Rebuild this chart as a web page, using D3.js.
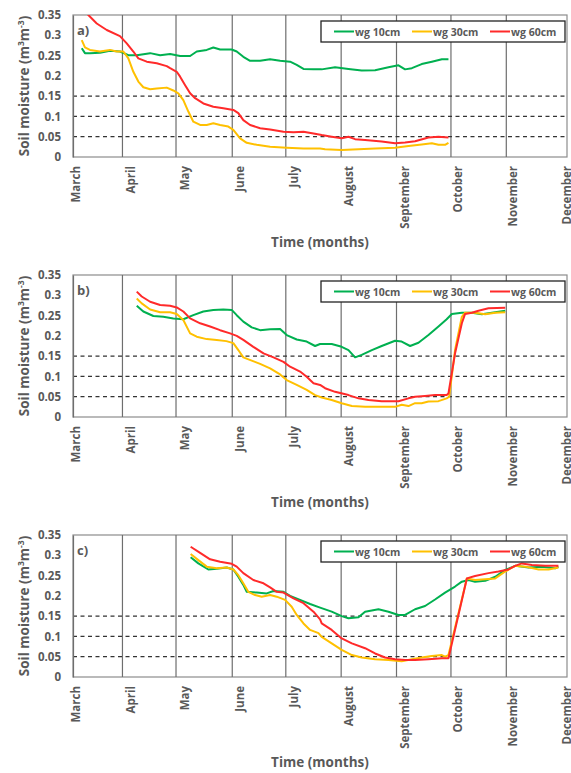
<!DOCTYPE html>
<html lang="en">
<head>
  <meta charset="UTF-8" />
  <title>Soil moisture</title>
  <script src="https://d3js.org/d3.v7.min.js"></script>
  <style>
    body { margin: 0; padding: 0; background: #fff; }
    text { font-family: "Open Sans", Arial, sans-serif; fill: #595959; font-weight: bold; }
  </style>
</head>
<body>
  <div id="chart"></div>

  <script>
    // x values are days counted from 1 March, y values in m3/m3
    const monthNames = ["March", "April", "May", "June", "July", "August", "September", "October", "November", "December"];
    const monthDays = [0, 31, 61, 92, 122, 153, 184, 214, 245, 275];
    const gridDays = [26, 56, 87.5, 117.5, 148.5, 179.5, 210, 241];
    const yTicks = [0, 0.05, 0.1, 0.15, 0.2, 0.25, 0.3, 0.35];
    const dashedLevels = [0.05, 0.1, 0.15];
    const seriesNames = ["wg 10cm", "wg 30cm", "wg 60cm"];
    const seriesColors = ["#00b050", "#ffc000", "#ff2a2a"];
    const panelLabels = ["a)", "b)", "c)"];

    const a10 = [[3.2,0.268],[5,0.256],[7.8,0.256],[13.4,0.257],[19,0.262],[24.6,0.26],[29.3,0.251],[34,0.251],[41.5,0.256],[47.1,0.251],[52.7,0.254],[58.3,0.249],[63.9,0.249],[67.6,0.26],[73.2,0.264],[76.9,0.27],[80.7,0.265],[87.2,0.265],[90,0.26],[93.7,0.247],[97.5,0.237],[103.1,0.237],[108.7,0.241],[114.3,0.237],[119.9,0.235],[123.6,0.227],[127.4,0.217],[133,0.216],[137.6,0.216],[145.1,0.221],[152.6,0.217],[160,0.213],[167.5,0.214],[175,0.221],[180.6,0.226],[184.3,0.216],[188.1,0.219],[193.6,0.229],[199.3,0.235],[204.9,0.241],[208.6,0.241]];
    const a30 = [[3.2,0.288],[5,0.27],[7.8,0.264],[13.4,0.26],[19,0.264],[22.8,0.26],[26.5,0.26],[29.3,0.243],[32.1,0.21],[34.9,0.186],[37.7,0.172],[41.5,0.167],[45.2,0.169],[50.8,0.171],[54.5,0.164],[57.3,0.157],[60.1,0.14],[62.9,0.112],[65.7,0.087],[69.5,0.079],[73.2,0.079],[76.9,0.083],[80.7,0.079],[85.3,0.075],[88.1,0.067],[91.9,0.046],[95.6,0.035],[101.2,0.03],[108.7,0.025],[118,0.023],[127.4,0.021],[136.7,0.021],[139.5,0.019],[148.8,0.017],[158.2,0.019],[167.5,0.021],[178.7,0.023],[186.2,0.027],[193.6,0.031],[199.3,0.034],[203,0.03],[206.7,0.03],[208.6,0.035]];
    const a60 = [[3.2,0.368],[6.9,0.35],[11.6,0.329],[17.2,0.313],[24.6,0.298],[28.4,0.28],[32.1,0.26],[34.9,0.243],[39.6,0.235],[45.2,0.231],[50.8,0.224],[52.7,0.219],[56.4,0.21],[58.3,0.198],[61.1,0.177],[63.9,0.157],[66.7,0.145],[71.3,0.132],[76.9,0.124],[82.5,0.12],[88.1,0.116],[90.9,0.108],[93.7,0.091],[97.5,0.079],[103.1,0.071],[108.7,0.068],[116.2,0.062],[121.8,0.061],[127.4,0.062],[133,0.058],[137.6,0.054],[143.2,0.05],[148.8,0.046],[152.6,0.05],[156.3,0.044],[161.9,0.042],[171.2,0.038],[178.7,0.034],[184.3,0.036],[189.9,0.039],[197.4,0.048],[203,0.05],[208.6,0.048]];

    const b10 = [[34,0.274],[37.7,0.26],[43.3,0.249],[48.9,0.247],[54.5,0.243],[60.1,0.241],[65.7,0.251],[71.3,0.26],[76.9,0.264],[82.5,0.265],[87.2,0.264],[90,0.251],[93.7,0.235],[98.4,0.221],[103.1,0.214],[108.7,0.216],[114.3,0.217],[118,0.202],[123.6,0.191],[129.2,0.186],[133.9,0.175],[136.7,0.18],[143.2,0.18],[148.8,0.173],[152.6,0.165],[156.3,0.147],[160,0.153],[165.7,0.165],[171.2,0.175],[178.7,0.188],[182.4,0.186],[187.1,0.175],[191.8,0.183],[197.4,0.202],[203,0.223],[207.6,0.241],[210.5,0.254],[216.1,0.257],[221.7,0.257],[227.3,0.253],[232.9,0.257],[240.4,0.262]];
    const b30 = [[34,0.292],[36.8,0.28],[41.5,0.265],[47.1,0.258],[52.7,0.258],[56.4,0.254],[60.1,0.239],[63.9,0.206],[67.6,0.198],[73.2,0.192],[78.8,0.19],[84.2,0.187],[88.1,0.182],[90.9,0.165],[93.7,0.147],[98.4,0.139],[103.1,0.131],[108.7,0.12],[114.3,0.105],[118,0.091],[123.6,0.079],[129.2,0.067],[133.9,0.054],[137.6,0.048],[143.2,0.042],[148.8,0.034],[154.5,0.027],[161.9,0.025],[171.2,0.025],[178.7,0.025],[182.4,0.03],[186.2,0.027],[189.9,0.034],[193.6,0.034],[197.4,0.038],[203,0.039],[207.6,0.046],[209,0.05],[212.3,0.165],[216.1,0.247],[217.9,0.257],[223.5,0.257],[229.2,0.253],[234.8,0.257],[240.4,0.258]];
    const b60 = [[34,0.309],[36.8,0.297],[41.5,0.284],[47.1,0.276],[52.7,0.274],[56.4,0.27],[60.1,0.26],[63.9,0.243],[69.5,0.231],[75.1,0.223],[80.7,0.214],[86.3,0.206],[90,0.2],[93.7,0.19],[99.3,0.173],[105,0.157],[110.6,0.147],[116.2,0.136],[119.9,0.124],[125.5,0.112],[129.2,0.099],[133,0.083],[136.7,0.079],[139.5,0.071],[145.1,0.062],[152.6,0.054],[158.2,0.046],[163.8,0.042],[171.2,0.039],[180.6,0.039],[186.2,0.046],[189.9,0.05],[195.5,0.052],[201.1,0.054],[207.6,0.054],[208.6,0.058],[212.3,0.157],[216.1,0.231],[217.9,0.254],[221.7,0.257],[225.4,0.262],[231,0.268],[240.4,0.269]];

    const c10 = [[64.2,0.295],[68.5,0.28],[74.1,0.265],[78.8,0.267],[84.4,0.27],[88.1,0.265],[90.9,0.247],[93.7,0.227],[95.6,0.21],[101.2,0.208],[106.8,0.206],[110.6,0.212],[116.2,0.21],[119.9,0.2],[125.5,0.19],[131.1,0.18],[136.7,0.171],[143.2,0.161],[148.8,0.15],[152.6,0.145],[158.2,0.147],[161.9,0.161],[169.4,0.167],[175,0.161],[180.6,0.153],[184.3,0.153],[189.9,0.167],[195.5,0.175],[201.1,0.191],[206.7,0.208],[212.3,0.223],[216.1,0.235],[219.8,0.239],[223.5,0.235],[229.2,0.237],[234.8,0.247],[240.4,0.264],[246,0.274],[253.5,0.27],[261,0.272],[268.4,0.268],[270.2,0.272]];
    const c30 = [[64.2,0.303],[68.5,0.288],[73.2,0.272],[78.8,0.268],[84.4,0.27],[88.1,0.265],[90.9,0.251],[93.7,0.231],[96.5,0.21],[100.3,0.202],[104,0.198],[108.7,0.202],[112.4,0.198],[117.1,0.19],[120.8,0.173],[123.6,0.153],[127.4,0.132],[131.1,0.116],[135.8,0.108],[137.6,0.099],[143.2,0.083],[148.8,0.067],[154.5,0.054],[160,0.048],[167.5,0.044],[175,0.042],[182.4,0.039],[188.1,0.044],[193.6,0.048],[199.3,0.052],[204.9,0.054],[206.7,0.05],[208.6,0.054],[218.9,0.243],[223.5,0.239],[229.2,0.241],[234.8,0.243],[240.4,0.26],[246,0.274],[251.6,0.272],[259.1,0.265],[264.7,0.265],[270.2,0.27]];
    const c60 = [[64.2,0.321],[69.5,0.306],[75.1,0.29],[80.7,0.284],[87.2,0.279],[90,0.272],[93.7,0.256],[99.3,0.239],[105,0.231],[108.7,0.221],[112.4,0.21],[116.2,0.208],[121.8,0.194],[127.4,0.182],[133,0.161],[136.7,0.142],[137.6,0.132],[143.2,0.116],[148.8,0.095],[154.5,0.083],[161.9,0.071],[167.5,0.058],[173.1,0.048],[178.7,0.044],[184.3,0.042],[189.9,0.042],[197.4,0.044],[204.9,0.046],[208.6,0.046],[218.9,0.243],[223.5,0.249],[231,0.256],[236.6,0.26],[242.2,0.265],[245.9,0.274],[249.7,0.28],[255.3,0.276],[262.8,0.274],[270.2,0.274]];

    const panels = [[a10, a30, a60], [b10, b30, b60], [c10, c30, c60]];

    const width = 571, height = 773;
    const margin = { left: 73, right: 4, top: 15 };
    const plotH = 142;
    const panelStep = 260;

    const svg = d3.select("#chart").append("svg")
      .attr("width", width)
      .attr("height", height);

    const x = d3.scaleLinear().domain([-1.7, 275]).range([margin.left, width - margin.right]);
    const y = d3.scaleLinear().domain([0, 0.35]).range([margin.top + plotH, margin.top]);

    const line = d3.line().x(d => x(d[0])).y(d => y(d[1]));

    svg.append("defs").append("clipPath").attr("id", "plotClip")
      .append("rect")
      .attr("x", x.range()[0]).attr("y", margin.top)
      .attr("width", x.range()[1] - x.range()[0]).attr("height", plotH);

    panels.forEach((series, i) => {
      const g = svg.append("g").attr("transform", `translate(0,${i * panelStep})`);

      // frame
      g.append("rect")
        .attr("x", x.range()[0]).attr("y", margin.top)
        .attr("width", x.range()[1] - x.range()[0]).attr("height", plotH)
        .attr("fill", "none").attr("stroke", "#8c8c8c").attr("stroke-width", 1.2);

      // vertical month lines
      g.selectAll(".vgrid").data(gridDays).enter().append("line")
        .attr("x1", d => x(d)).attr("x2", d => x(d))
        .attr("y1", margin.top).attr("y2", margin.top + plotH)
        .attr("stroke", "#6e6e6e").attr("stroke-width", 1.2);

      // dashed levels
      g.selectAll(".hdash").data(dashedLevels).enter().append("line")
        .attr("x1", x.range()[0]).attr("x2", x.range()[1])
        .attr("y1", d => y(d)).attr("y2", d => y(d))
        .attr("stroke", "#333").attr("stroke-width", 1.3)
        .attr("stroke-dasharray", "4,3.5");

      // y axis
      const yAxis = g.append("g")
        .attr("transform", `translate(${x.range()[0]},0)`)
        .call(d3.axisLeft(y).tickValues(yTicks).tickSize(0).tickPadding(12)
          .tickFormat(d => d === 0 ? "0" : String(+d.toFixed(2))));
      yAxis.select(".domain").attr("stroke", "#6e6e6e").attr("stroke-width", 1.2);
      yAxis.selectAll("text").attr("font-size", 11.5).attr("fill", "#595959")
        .attr("font-family", "'Open Sans', Arial, sans-serif").attr("font-weight", "bold");

      // month labels
      g.selectAll(".month").data(monthDays).enter().append("text")
        .attr("transform", d => `translate(${x(d)},${margin.top + plotH + 9}) rotate(-90)`)
        .attr("text-anchor", "end")
        .attr("dy", "0.35em")
        .attr("font-size", 11.5)
        .text((d, k) => monthNames[k]);

      // axis titles
      const yt = g.append("text")
        .attr("transform", `translate(29,${margin.top + plotH / 2}) rotate(-90)`)
        .attr("text-anchor", "middle")
        .attr("font-size", 13.5);
      yt.append("tspan").text("Soil moisture (m");
      yt.append("tspan").attr("font-size", 8.5).attr("dy", -5).text("3");
      yt.append("tspan").attr("dy", 5).text("m");
      yt.append("tspan").attr("font-size", 8.5).attr("dy", -5).text("-3");
      yt.append("tspan").attr("dy", 5).text(")");

      g.append("text")
        .attr("x", 320).attr("y", 247)
        .attr("text-anchor", "middle")
        .attr("font-size", 13.5)
        .text("Time (months)");

      // panel label
      g.append("text")
        .attr("x", 77).attr("y", 35)
        .attr("font-size", 13)
        .text(panelLabels[i]);

      // series lines
      const lines = g.append("g").attr("clip-path", "url(#plotClip)");
      series.forEach((s, k) => {
        lines.append("path")
          .datum(s)
          .attr("fill", "none")
          .attr("stroke", seriesColors[k])
          .attr("stroke-width", 2)
          .attr("stroke-linejoin", "round")
          .attr("d", line);
      });

      // legend
      const lg = g.append("g").attr("transform", "translate(321,21)");
      lg.append("rect").attr("width", 244).attr("height", 21)
        .attr("fill", "#fff").attr("stroke", "#222").attr("stroke-width", 1.3);
      seriesNames.forEach((name, k) => {
        const item = lg.append("g").attr("transform", `translate(${13 + k * 78},0)`);
        item.append("line").attr("x1", 0).attr("x2", 20).attr("y1", 10.5).attr("y2", 10.5)
          .attr("stroke", seriesColors[k]).attr("stroke-width", 2);
        item.append("text").attr("x", 21).attr("y", 14.5)
          .attr("font-size", 10.5)
          .text(name);
      });
    });
  </script>
</body>
</html>
